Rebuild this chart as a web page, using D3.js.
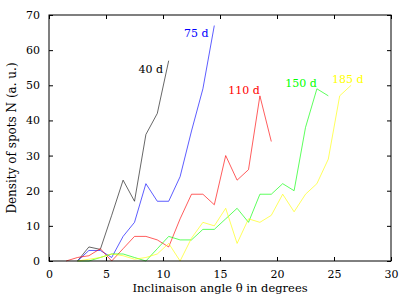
<!DOCTYPE html>
<html>
<head>
<meta charset="utf-8">
<script src="https://cdn.jsdelivr.net/npm/d3@7"></script>
<style>
  body { margin: 0; background: #fff; }
  svg text { font-family: "DejaVu Serif", "Liberation Serif", "Times New Roman", serif !important; }
</style>
</head>
<body>
<div id="chart"></div>
<script>
// Data
var x40 = [2.5, 3.5, 4.5, 5.5, 6.5, 7.5, 8.5, 9.5, 10.5];
var y40 = [0, 4, 3.3, 13, 23, 17, 36, 42, 57];

var x75 = [2.5, 3.5, 4.5, 5.5, 6.5, 7.5, 8.5, 9.5, 10.5, 11.5, 12.5, 13.5, 14.5];
var y75 = [0, 3, 3, 1, 7, 11, 22, 17, 17, 24, 37, 49, 67];

var x110 = [1.5, 2.5, 3.5, 4.5, 5.5, 6.5, 7.5, 8.5, 9.5, 10.5, 11.5, 12.5, 13.5, 14.5, 15.5, 16.5, 17.5, 18.5, 19.5];
var y110 = [0, 1, 1.5, 3.5, 0, 3.5, 7, 7, 6, 4, 12, 19, 19, 16, 30, 23, 26, 47, 34];

var x150 = [2.5, 3.5, 4.5, 5.5, 6.5, 7.5, 8.5, 9.5, 10.5, 11.5, 12.5, 13.5, 14.5, 15.5, 16.5, 17.5, 18.5, 19.5, 20.5, 21.5, 22.5, 23.5, 24.5];
var y150 = [0, 0, 1, 2, 2, 1, 0, 3.5, 7, 6, 6, 9, 9, 12, 15, 11, 19, 19, 22, 20, 38, 49, 47];

var x185 = [2.5, 3.5, 4.5, 5.5, 6.5, 7.5, 8.5, 9.5, 10.5, 11.5, 12.5, 13.5, 14.5, 15.5, 16.5, 17.5, 18.5, 19.5, 20.5, 21.5, 22.5, 23.5, 24.5, 25.5, 26.5];
var y185 = [0, 0.5, 1, 2, 1.5, 0.5, 1, 2, 5, 0, 6.5, 11, 10, 15, 5, 12, 11, 13, 19, 14, 19, 22, 29, 47, 50];

var seriesNames = ['40 d', '75 d', '110 d', '150 d', '185 d'];
var seriesColors = ['#000000', '#0000ff', '#ff0000', '#00ff00', '#ffff00'];
// label anchor (right end, baseline) in data units
var labelX = [10.0, 14.0, 18.5, 23.5, 27.6];
var labelY = [53.6, 63.7, 47.5, 49.4, 50.6];

var xTicks = [0, 5, 10, 15, 20, 25, 30];
var yTicks = [0, 10, 20, 30, 40, 50, 60, 70];

// Chart space
var margin = {top: 15, right: 24, bottom: 36, left: 49},
    width = 391 - 49,
    height = 261 - 15;

var svg = d3.select('#chart').append('svg')
    .attr('width', 415)
    .attr('height', 297)
    .append('g')
    .attr('transform', 'translate(' + margin.left + ',' + margin.top + ')');

var xScale = d3.scaleLinear().domain([0, 30]).range([0, width]);
var yScale = d3.scaleLinear().domain([0, 70]).range([height, 0]);

// Axes, ticks pointing inwards, mirrored on top/right
svg.append('g')
    .attr('transform', 'translate(0,' + height + ')')
    .call(d3.axisBottom(xScale).tickValues(xTicks).tickSizeInner(-4).tickSizeOuter(0).tickPadding(9.5));
svg.append('g')
    .call(d3.axisLeft(yScale).tickValues(yTicks).tickSizeInner(-4).tickSizeOuter(0).tickPadding(9));
svg.append('g')
    .call(d3.axisTop(xScale).tickValues(xTicks).tickSizeInner(-4).tickSizeOuter(0).tickFormat(''));
svg.append('g')
    .attr('transform', 'translate(' + width + ',0)')
    .call(d3.axisRight(yScale).tickValues(yTicks).tickSizeInner(-4).tickSizeOuter(0).tickFormat(''));

svg.selectAll('.domain').remove();
svg.selectAll('g').attr('font-family', null);
svg.selectAll('.tick line').attr('stroke', '#000');
svg.selectAll('.tick text')
    .attr('fill', '#000')
    .style('font-size', '11px');

// Plot
var xs = [x40, x75, x110, x150, x185];
var ys = [y40, y75, y110, y150, y185];
var line = d3.line()
    .x(function(d) { return xScale(d[0]); })
    .y(function(d) { return yScale(d[1]); });

xs.forEach(function(xv, i) {
    var pts = xv.map(function(v, j) { return [v, ys[i][j]]; });
    svg.append('path')
        .datum(pts)
        .attr('fill', 'none')
        .attr('stroke', seriesColors[i])
        .attr('stroke-width', 0.8)
        .attr('opacity', i === 0 ? 0.75 : 0.8)
        .attr('d', line);
    svg.append('text')
        .attr('x', xScale(labelX[i]))
        .attr('y', yScale(labelY[i]))
        .attr('text-anchor', 'end')
        .attr('fill', seriesColors[i])
        .style('font-size', '11px')
        .text(seriesNames[i]);
});

// Frame
svg.append('rect')
    .attr('width', width)
    .attr('height', height)
    .attr('fill', 'none')
    .attr('stroke', '#000')
    .attr('stroke-width', 1);

// Axis titles
svg.append('text')
    .attr('x', width / 2)
    .attr('y', height + 31)
    .attr('text-anchor', 'middle')
    .style('font-size', '11.5px')
    .text('Inclinaison angle θ in degrees');
svg.append('text')
    .attr('transform', 'translate(-33,' + (height / 2) + ') rotate(-90)')
    .attr('text-anchor', 'middle')
    .style('font-size', '12px')
    .text('Density of spots N (a. u.)');
</script>
</body>
</html>
